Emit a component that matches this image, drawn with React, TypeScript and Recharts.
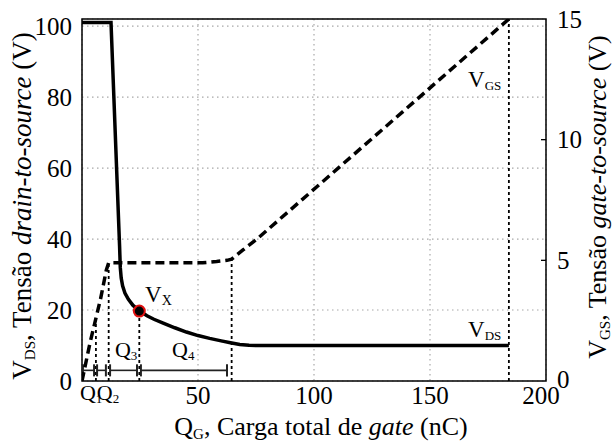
import React from 'react';
import {
  ComposedChart,
  Line,
  XAxis,
  YAxis,
  CartesianGrid,
  ReferenceLine,
  ReferenceDot,
  ReferenceArea,
} from 'recharts';

// ---------- data ----------
const vdsCharge = [0, 12.5, 16.2, 16.5, 16.9, 17.5, 18.5, 20, 22, 25, 28, 31, 35, 40, 45, 50, 55, 60, 64, 68, 72, 75, 184];
const vdsVolts = [101, 101, 38, 32, 29, 26.8, 24.8, 23, 21.3, 19.7, 18.4, 17.4, 16.3, 15, 13.8, 12.8, 12, 11.3, 10.8, 10.3, 10.05, 10, 10];

const vgsCharge = [0, 3.5, 8, 10.5, 11.5, 30, 52, 58, 62.5, 64.5, 69.4, 75.4, 184];
const vgsVolts = [0, 1.6, 3.4, 4.6, 4.9, 4.9, 4.9, 4.95, 5.0, 5.05, 5.43, 5.88, 15];

const xTicks = [0, 50, 100, 150, 200];
const leftTicks = [0, 20, 40, 60, 80, 100];
const rightTicks = [0, 5, 10, 15];

// Charge boundaries (nC) and the voltages where the guide lines stop
const guideCharge = [6, 11.5, 64.5, 184];
const guideVgs = [2.7, 4.9, 5.05, 15];
const vxCharge = 24.7;
const vxVolts = 19.7;

// Q interval brackets
const qStart = [0.4, 6.5, 12.1, 25.4];
const qEnd = [5.2, 10.3, 23.7, 62.5];
const qNames = ['1', '2', '3', '4'];
const qLabelX = [-0.9, 6.4, 14.2, 38.8];
const qLabelY = [-5.3, -5.3, 6.7, 6.7];
const bracketY = 3;

const vdsData = vdsCharge.map((x, i) => ({ x, y: vdsVolts[i] }));
const vgsData = vgsCharge.map((x, i) => ({ x, y: vgsVolts[i] }));

const FONT = '"Liberation Serif"';
const fontStyle = { fontFamily: FONT };

const LeftTick = (p: any) => (
  <text x={p.x} y={p.y} textAnchor="end" dominantBaseline="central" style={fontStyle} fontSize={25} fill="#000">
    {p.payload.value}
  </text>
);

const RightTick = (p: any) => {
  const v = p.payload.value;
  const axisX = p.x - 11;
  return (
    <g>
      {v !== 0 && v !== 15 ? <line x1={axisX} x2={axisX - 5} y1={p.y} y2={p.y} stroke="#000" strokeWidth={1.3} /> : null}
      <text x={p.x} y={v === 0 ? p.y - 2 : p.y} textAnchor="start" dominantBaseline="central" style={fontStyle} fontSize={25} fill="#000">
        {v}
      </text>
    </g>
  );
};

const BottomTick = (p: any) => {
  const v = p.payload.value;
  if (v === 0) return <g />;
  return (
    <text x={v === 200 ? p.x - 5 : p.x} y={p.y} textAnchor="middle" dominantBaseline="central" style={fontStyle} fontSize={25} fill="#000">
      {v}
    </text>
  );
};

const subText = (main: string, sub: string, size: number, subSize: number, dy: number) => (p: any) => (
  <text x={p.cx} y={p.cy} style={fontStyle} fontSize={size} fill="#000">
    {main}
    <tspan fontSize={subSize} dy={dy}>{sub}</tspan>
  </text>
);

export default function App() {
  return (
    <div style={{ position: 'absolute', left: 0, top: 0, width: 613, height: 441, background: '#fff' }}>
      <ComposedChart width={613} height={441} margin={{ top: 19, right: 0, bottom: 0, left: 0 }}>
        <CartesianGrid yAxisId="left" stroke="#a8a8a8" strokeDasharray="1.5 3.5" strokeWidth={1.2} />
        <XAxis
          type="number"
          dataKey="x"
          domain={[0, 200]}
          ticks={xTicks}
          height={60}
          axisLine={false}
          tickLine={false}
          tickSize={0}
          tickMargin={14}
          tick={BottomTick}
          allowDataOverflow
        />
        <YAxis
          yAxisId="left"
          type="number"
          domain={[0, 102]}
          ticks={leftTicks}
          width={82}
          axisLine={false}
          tickLine={false}
          tickSize={0}
          tickMargin={10}
          tick={LeftTick}
          allowDataOverflow
        />
        <YAxis
          yAxisId="right"
          orientation="right"
          type="number"
          domain={[0, 15]}
          ticks={rightTicks}
          width={67}
          axisLine={false}
          tickLine={false}
          tickSize={0}
          tickMargin={11}
          tick={RightTick}
          allowDataOverflow
        />

        {guideCharge.map((q, i) => (
          <ReferenceLine
            key={'g' + i}
            yAxisId="right"
            segment={[{ x: q, y: 0 }, { x: q, y: guideVgs[i] }]}
            stroke="#000"
            strokeWidth={1.8}
            strokeDasharray="3 3"
          />
        ))}
        <ReferenceLine
          yAxisId="left"
          segment={[{ x: vxCharge, y: 0 }, { x: vxCharge, y: vxVolts }]}
          stroke="#000"
          strokeWidth={1.8}
          strokeDasharray="3 3"
        />

        {qStart.map((s, i) => (
          <ReferenceLine
            key={'qh' + i}
            yAxisId="left"
            segment={[{ x: s, y: bracketY }, { x: qEnd[i], y: bracketY }]}
            stroke="#222"
            strokeWidth={1.6}
          />
        ))}
        {qStart.map((s, i) => (
          <ReferenceLine
            key={'qa' + i}
            yAxisId="left"
            segment={[{ x: s, y: bracketY - 1.7 }, { x: s, y: bracketY + 1.7 }]}
            stroke="#222"
            strokeWidth={2}
          />
        ))}
        {qEnd.map((e, i) => (
          <ReferenceLine
            key={'qb' + i}
            yAxisId="left"
            segment={[{ x: e, y: bracketY - 1.7 }, { x: e, y: bracketY + 1.7 }]}
            stroke="#222"
            strokeWidth={2}
          />
        ))}

        <Line
          yAxisId="left"
          data={vdsData}
          dataKey="y"
          type="linear"
          stroke="#000"
          strokeWidth={3.5}
          dot={false}
          activeDot={false}
          isAnimationActive={false}
        />
        <Line
          yAxisId="right"
          data={vgsData}
          dataKey="y"
          type="linear"
          stroke="#000"
          strokeWidth={3.5}
          strokeDasharray="9 5"
          dot={false}
          activeDot={false}
          isAnimationActive={false}
        />

        <ReferenceArea
          yAxisId="left"
          x1={0}
          x2={200}
          y1={0}
          y2={102}
          fill="none"
          fillOpacity={0}
          stroke="#000"
          strokeWidth={1.5}
          strokeOpacity={1}
        />

        <ReferenceDot yAxisId="left" x={vxCharge} y={vxVolts} r={5.5} fill="#000" stroke="#e01010" strokeWidth={2} />

        <ReferenceDot yAxisId="left" x={27.2} y={22.3} r={1} shape={subText('V', 'X', 23, 14, 3)} />
        <ReferenceDot yAxisId="left" x={166.4} y={82.8} r={1} shape={subText('V', 'GS', 23, 13, 3)} />
        <ReferenceDot yAxisId="left" x={166.4} y={12.4} r={1} shape={subText('V', 'DS', 23, 13, 3)} />
        {qNames.map((n, i) => (
          <ReferenceDot
            key={'ql' + i}
            yAxisId="left"
            x={qLabelX[i]}
            y={qLabelY[i]}
            r={1}
            ifOverflow="visible"
            shape={subText('Q', n, 22, 13, 3)}
          />
        ))}
      </ComposedChart>

      <svg width={613} height={441} style={{ position: 'absolute', left: 0, top: 0, pointerEvents: 'none' }}>
        <text x={321} y={435} textAnchor="middle" style={fontStyle} fontSize={26} fill="#000">
          Q<tspan fontSize={15} dy={4}>G</tspan>
          <tspan dy={-4}>, Carga total de </tspan>
          <tspan fontStyle="italic">gate</tspan>
          <tspan> (nC)</tspan>
        </text>
        <text transform="translate(31,206) rotate(-90)" textAnchor="middle" style={fontStyle} fontSize={27} fill="#000">
          V<tspan fontSize={15} dy={4}>DS</tspan>
          <tspan dy={-4}>, Tensão </tspan>
          <tspan fontStyle="italic">drain-to-source</tspan>
          <tspan> (V)</tspan>
        </text>
        <text transform="translate(606,197) rotate(-90)" textAnchor="middle" style={fontStyle} fontSize={26} fill="#000">
          V<tspan fontSize={15} dy={4}>GS</tspan>
          <tspan dy={-4}>, Tensão </tspan>
          <tspan fontStyle="italic">gate-to-source</tspan>
          <tspan> (V)</tspan>
        </text>
      </svg>
    </div>
  );
}
